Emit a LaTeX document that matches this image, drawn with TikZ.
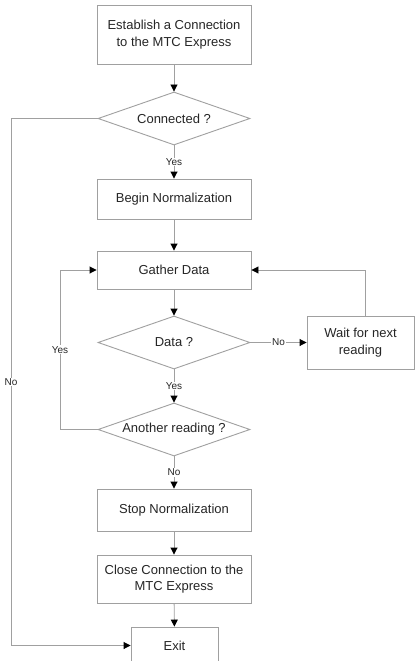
\documentclass[tikz,border=0pt]{standalone}
\usepackage{fontspec}
\setmainfont{Liberation Sans}
\usetikzlibrary{shapes.geometric,arrows.meta}
\definecolor{linegray}{HTML}{A0A0A0}
\definecolor{textc}{HTML}{262626}
\begin{document}
\begin{tikzpicture}[x=1pt,y=-1pt,
  box/.style={draw=linegray, line width=0.9pt, rectangle, align=center, inner sep=0pt,
    font=\fontsize{13}{16.5}\selectfont, text=textc},
  dec/.style={draw=linegray, line width=0.9pt, diamond, aspect=3, inner sep=0pt,
    minimum width=152pt, minimum height=53pt, font=\fontsize{13}{16.5}\selectfont, text=textc},
  conn/.style={draw=linegray, line width=0.9pt, -{Triangle[color=black,length=7pt,width=7pt]}},
  lab/.style={fill=white, inner sep=1pt, font=\fontsize{10}{12}\selectfont, text=textc}]
\useasboundingbox (0,0) rectangle (415,661);
\clip (0,0) rectangle (415,661);
\fill[white] (0,0) rectangle (415,661);

\node[box, minimum width=154pt, minimum height=59pt] (b1) at (174,34.5) {Establish a Connection\\to the MTC Express};
\node[dec] (d1) at (174,118.5) {Connected ?};
\node[box, minimum width=154pt, minimum height=40pt] (b2) at (174,199) {Begin Normalization};
\node[box, minimum width=154pt, minimum height=38pt] (b3) at (174,270) {Gather Data};
\node[dec] (d2) at (174,342.5) {Data ?};
\node[box, minimum width=107pt, minimum height=53pt] (w) at (360.5,342.5) {Wait for next\\reading};
\node[dec] (d3) at (174,429.5) {Another reading ?};
\node[box, minimum width=154pt, minimum height=42pt] (b4) at (174,510) {Stop Normalization};
\node[box, minimum width=154pt, minimum height=48pt] (b5) at (174,579) {Close Connection to the\\MTC Express};
\node[box, minimum width=87pt, minimum height=37pt] (ex) at (174.5,645.5) {Exit};

\coordinate (c1) at (11,118.5);
\coordinate (c2) at (11,645.5);
\coordinate (c3) at (60,429.5);
\coordinate (c4) at (60,270);
\coordinate (c5) at (365,316);
\coordinate (c6) at (365,270);

\draw[conn] (b1) -- (d1);
\draw[conn] (d1) -- node[lab]{Yes} (b2);
\draw[conn] (b2) -- (b3);
\draw[conn] (b3) -- (d2);
\draw[conn] (d2) -- node[lab]{Yes} (d3);
\draw[conn] (d3) -- node[lab]{No} (b4);
\draw[conn] (b4) -- (b5);
\draw[conn] (b5) -- (ex);
\draw[conn] (d2) -- node[lab]{No} (w);
\draw[conn] (c5) -- (c6) -- (b3.east);
\draw[conn] (d1.west) -- (c1) -- node[lab]{No} (c2) -- (ex.west);
\draw[conn] (d3.west) -- (c3) -- node[lab]{Yes} (c4) -- (b3.west);
\end{tikzpicture}
\end{document}
